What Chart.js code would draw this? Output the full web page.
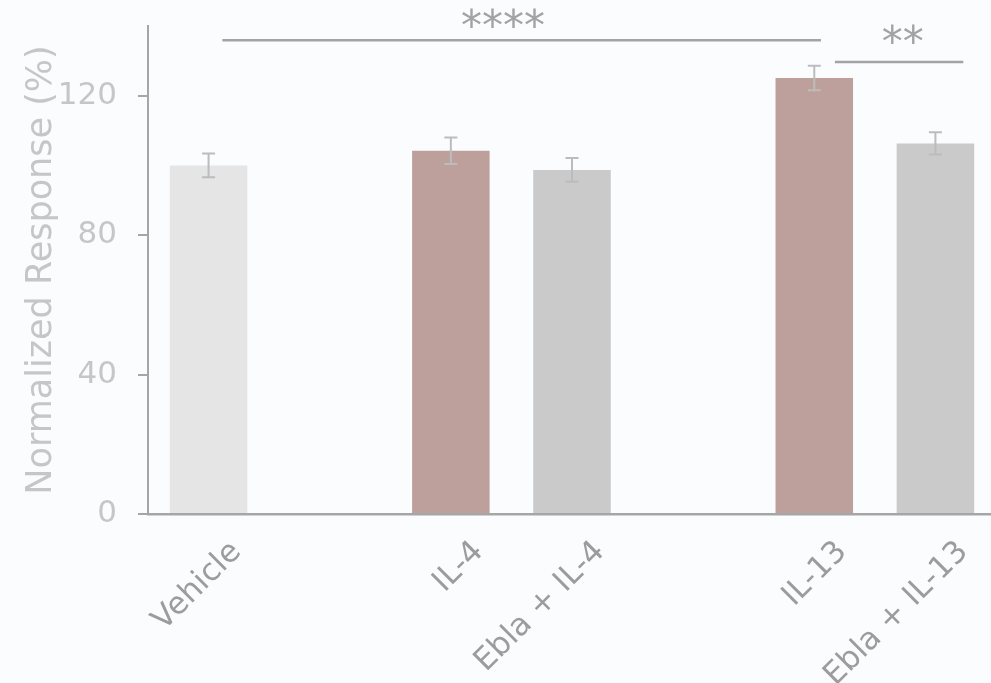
<!DOCTYPE html>
<html><head><meta charset="utf-8">
<script src="https://cdn.jsdelivr.net/npm/chart.js@4.4.0/dist/chart.umd.min.js"></script>
<style>
html,body{margin:0;padding:0;background:#fbfcfe;overflow:hidden;}
#wrap{position:relative;width:1000px;height:683px;}
</style></head><body>
<div id="wrap"><canvas id="c"></canvas></div>
<script>
// ---- data ----
const categories = ['Vehicle', '', 'IL-4', 'Ebla + IL-4', '', 'IL-13', 'Ebla + IL-13'];
const responseValues = [100, null, 104.2, 98.7, null, 125.1, 106.3];
const errorValues = [3.4, null, 3.8, 3.4, null, 3.5, 3.2];
const yTicks = [0, 40, 80, 120];
const sigLabels = ['****', '**'];
const sigFrom = [0.114, 5.17];
const sigTo = [5.055, 6.23];
const sigLevel = [135.9, 129.7];
const sigTextAt = [2.43, 5.73];
const sigTextLevel = [142.3, 137.7];

// ---- styles ----
const FONT = '"DejaVu Sans", sans-serif';
const VEHICLE = '#e5e5e6', CYTO = '#bda09c', EBLA = '#cacacb';
const AXIS = '#a6a6a6';

function barColor(ctx) {
  const lab = categories[ctx.dataIndex] || '';
  if (lab === 'Vehicle') return VEHICLE;
  if (lab.startsWith('Ebla')) return EBLA;
  return CYTO;
}

const overlay = {
  id: 'overlay',
  afterDatasetsDraw(chart) {
    const {ctx, scales: {x, y}} = chart;
    ctx.save();
    ctx.strokeStyle = '#bcbcbc';
    ctx.lineWidth = 2;
    responseValues.forEach((v, i) => {
      if (v == null) return;
      const px = x.getPixelForValue(i);
      const t = y.getPixelForValue(v + errorValues[i]);
      const b = y.getPixelForValue(v - errorValues[i]);
      ctx.beginPath();
      ctx.moveTo(px, t); ctx.lineTo(px, b);
      ctx.moveTo(px - 6.5, t); ctx.lineTo(px + 6.5, t);
      ctx.moveTo(px - 6.5, b); ctx.lineTo(px + 6.5, b);
      ctx.stroke();
    });
    ctx.restore();
  },
  afterDraw(chart) {
    const {ctx, scales: {x, y}} = chart;
    ctx.save();
    ctx.strokeStyle = '#a3a3a3';
    ctx.lineWidth = 2.5;
    ctx.fillStyle = '#a3a3a3';
    ctx.font = '42px ' + FONT;
    ctx.textAlign = 'center';
    ctx.textBaseline = 'alphabetic';
    sigLabels.forEach((lab, i) => {
      const py = y.getPixelForValue(sigLevel[i]);
      ctx.beginPath();
      ctx.moveTo(x.getPixelForValue(sigFrom[i]), py);
      ctx.lineTo(x.getPixelForValue(sigTo[i]), py);
      ctx.stroke();
      const m = ctx.measureText(lab);
      const cy = y.getPixelForValue(sigTextLevel[i]);
      const base = cy + (m.actualBoundingBoxAscent - m.actualBoundingBoxDescent) / 2;
      ctx.fillText(lab, x.getPixelForValue(sigTextAt[i]), base);
    });
    ctx.restore();
  }
};

new Chart(document.getElementById('c'), {
  type: 'bar',
  data: {
    labels: categories,
    datasets: [{
      data: responseValues,
      backgroundColor: barColor,
      borderWidth: 0,
      barPercentage: 0.64,
      categoryPercentage: 1.0
    }]
  },
  options: {
    responsive: true,
    maintainAspectRatio: false,
    animation: false,
    devicePixelRatio: 1,
    layout: {padding: {top: 26, right: 4, left: 0, bottom: 0}},
    plugins: {legend: {display: false}, tooltip: {enabled: false}},
    scales: {
      x: {
        grid: {display: false, drawTicks: false},
        border: {display: true, color: AXIS, width: 2.5},
        ticks: {
          autoSkip: false, minRotation: 45, maxRotation: 45,
          color: '#9c9c9c', font: {family: FONT, size: 31},
          labelOffset: 28, padding: 20
        },
        afterFit: s => { s.height = 169; s.paddingLeft = 0; s.paddingRight = 0; }
      },
      y: {
        min: 0, max: 140,
        afterBuildTicks: s => { s.ticks = yTicks.map(v => ({value: v})); },
        grid: {drawOnChartArea: false, drawTicks: true, tickLength: 10, color: AXIS, lineWidth: 2},
        border: {display: true, color: AXIS, width: 2},
        ticks: {color: '#c6c6c6', font: {family: FONT, size: 31}, padding: 21},
        title: {
          display: true, text: 'Normalized Response (%)', color: '#c6c6c6',
          font: {family: FONT, size: 35}, padding: {top: 21, bottom: 0}
        },
        afterFit: s => { s.width = 148; s.paddingTop = 0; s.paddingBottom = 0; }
      }
    }
  },
  plugins: [overlay]
});
</script>
</body></html>
